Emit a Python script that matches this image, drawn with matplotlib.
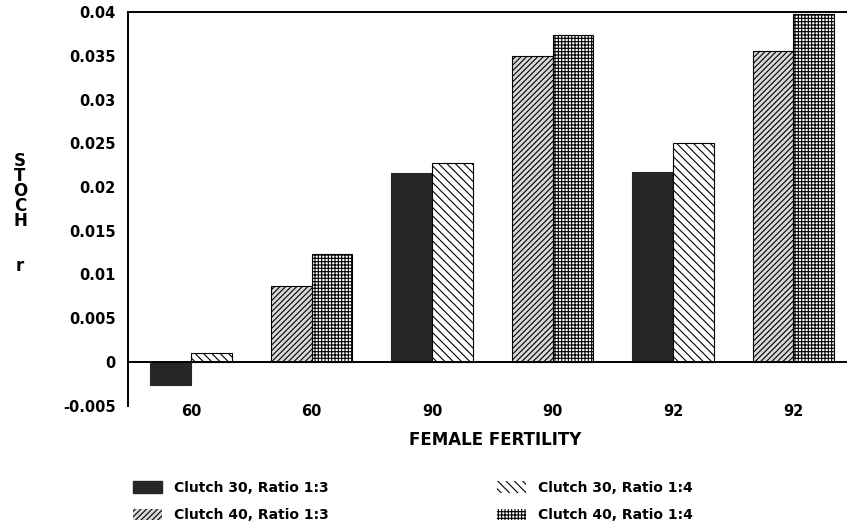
import numpy as np
import matplotlib
matplotlib.use('Agg')
import matplotlib.pyplot as plt
from matplotlib.patches import Patch

# data
fertility = ['60', '60', '90', '90', '92', '92']
c30_r13 = [-0.0026, np.nan, 0.0216, np.nan, 0.0217, np.nan]
c30_r14 = [0.0010, np.nan, 0.0227, np.nan, 0.0250, np.nan]
c40_r13 = [np.nan, 0.0087, np.nan, 0.0350, np.nan, 0.0356]
c40_r14 = [np.nan, 0.0123, np.nan, 0.0374, np.nan, 0.0398]
yticks = [-0.005, 0, 0.005, 0.01, 0.015, 0.02, 0.025, 0.03, 0.035, 0.04]
ytick_labels = ['-0.005', '0', '0.005', '0.01', '0.015', '0.02', '0.025', '0.03', '0.035', '0.04']
series_names = ['Clutch 30, Ratio 1:3', 'Clutch 40, Ratio 1:3', 'Clutch 30, Ratio 1:4', 'Clutch 40, Ratio 1:4']

plt.rcParams['font.family'] = ['DejaVu Sans']
plt.rcParams['font.weight'] = 'bold'
plt.rcParams['hatch.linewidth'] = 0.8

fig = plt.figure(figsize=(8.47, 5.27), dpi=100)
ax = fig.add_axes([128 / 847, 1 - 405.75 / 527, 1 - 128 / 847, (405.75 - 12) / 527])

x = np.arange(len(fertility))
w = 0.34
dark = '#262626'
ax.bar(x - w / 2, c30_r13, w, color=dark, edgecolor=dark, linewidth=0.8)
ax.bar(x + w / 2, c30_r14, w, color='white', edgecolor='black', hatch='\\\\\\\\', linewidth=0.8)
ax.bar(x - w / 2, c40_r13, w, color='#d8d8d8', edgecolor='black', hatch='//////', linewidth=0.8)
ax.bar(x + w / 2, c40_r14, w, color='white', edgecolor='black', hatch='+++++', linewidth=0.8)

ax.axhline(0, color='black', linewidth=1.4, zorder=3)

ax.set_xlim(-0.523, 5.444)
ax.set_ylim(-0.005, 0.04)
ax.set_xticks(x)
ax.set_xticklabels(fertility, fontsize=10.5, fontweight='bold')
ax.set_yticks(yticks)
ax.set_yticklabels(ytick_labels, fontsize=10.5, fontweight='bold')
ax.tick_params(axis='x', length=0, pad=-1)
ax.tick_params(axis='y', length=0, pad=9)

for s in ['right', 'bottom']:
    ax.spines[s].set_visible(False)
ax.spines['left'].set_linewidth(1.4)
ax.spines['top'].set_linewidth(1.4)

fig.text(495 / 847, 1 - 440 / 527, 'FEMALE FERTILITY', ha='center', va='center',
         fontsize=12, fontweight='bold')

# stacked y label
fig.text(20 / 847, 1 - 191 / 527, 'S\nT\nO\nC\nH', ha='center', va='center',
         fontsize=12, fontweight='bold', linespacing=0.78)
fig.text(20 / 847, 1 - 266 / 527, 'r', ha='center', va='center',
         fontsize=12, fontweight='bold')

handles = [
    Patch(facecolor=dark, edgecolor=dark),
    Patch(facecolor='#d8d8d8', edgecolor='white', hatch='//////'),
    Patch(facecolor='white', edgecolor='white', hatch='\\\\\\\\'),
    Patch(facecolor='white', edgecolor='white', hatch='+++++'),
]
leg_kw = dict(loc='upper left', frameon=False, fontsize=10, borderpad=0, borderaxespad=0,
              handlelength=2.1, handleheight=0.9, handletextpad=0.85, labelspacing=0.95)
leg1 = fig.legend(handles[:2], series_names[:2], bbox_to_anchor=(133 / 847, 1 - 481 / 527), **leg_kw)
leg2 = fig.legend(handles[2:], series_names[2:], bbox_to_anchor=(497 / 847, 1 - 481 / 527), **leg_kw)
for p in leg1.get_patches() + leg2.get_patches():
    if p.get_hatch():
        p.set_edgecolor('black')
        p.set_linewidth(0)

fig.savefig('out.png', dpi=100)
